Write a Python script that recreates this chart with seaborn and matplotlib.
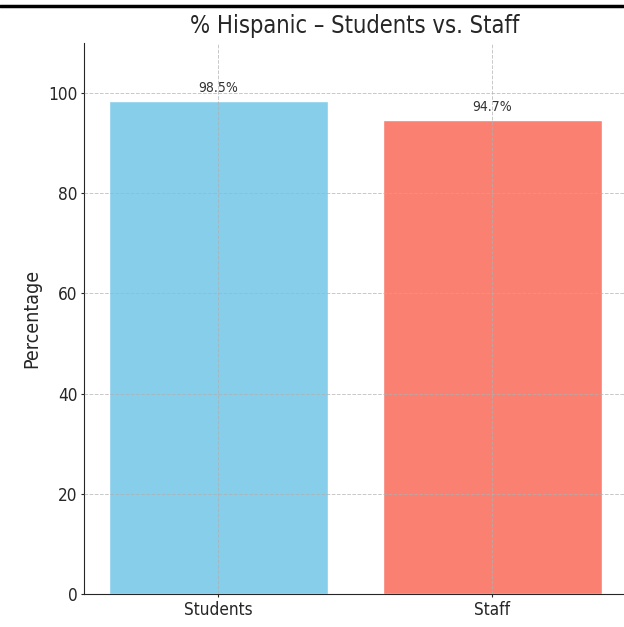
import matplotlib
matplotlib.use("Agg")
import matplotlib.pyplot as plt
import seaborn as sns
import pandas as pd
from matplotlib.lines import Line2D
from matplotlib import font_manager

groups = ["Students", "Staff"]
values = [98.5, 94.7]
labels = ["98.5%", "94.7%"]
colors = ["#87CEEB", "#FA8072"]

sns.set_style("ticks")
names = {f.name for f in font_manager.fontManager.ttflist}
fam = "DejaVu Sans"
if "DejaVu Sans Condensed" in names:
    fam = "DejaVu Sans Condensed"
plt.rcParams['font.family'] = [fam, 'DejaVu Sans']
plt.rcParams['font.stretch'] = 'condensed'

fig = plt.figure(figsize=(6.24, 6.27), dpi=100)
ax = fig.add_axes([0.1346, 0.0526, 0.869, 0.8788])

df = pd.DataFrame({"group": groups, "value": values})
sns.barplot(data=df, x="group", y="value", hue="group", palette=colors,
            width=0.8, saturation=1, legend=False, ax=ax)

for i, (v, lab) in enumerate(zip(values, labels)):
    ax.text(i, v + 1.2, lab, ha="center", va="bottom", fontsize=10, color="#333333")

ax.set_ylim(0, 110)
ax.set_xlim(-0.49, 1.49)
ax.set_yticks([0, 20, 40, 60, 80, 100])
ax.set_xlabel("")
ax.set_ylabel("Percentage", fontsize=14, color="#262626", labelpad=5)
ax.set_title("% Hispanic – Students vs. Staff", fontsize=17, color="#262626", pad=7.5)
ax.tick_params(labelsize=12.3, colors="#262626", length=2, width=0.8)
ax.tick_params(axis="y", pad=2.5)
ax.tick_params(axis="x", pad=3)
ax.grid(True, linestyle="--", color="#b0b0b0", linewidth=0.7, alpha=0.7)
ax.set_axisbelow(False)
for s in ["top", "right"]:
    ax.spines[s].set_visible(False)
for s in ["left", "bottom"]:
    ax.spines[s].set_color("#262626")

fig.add_artist(Line2D([0, 0.999], [0.9904, 0.9904], color="black", linewidth=2.5,
                      transform=fig.transFigure))

fig.savefig("out.png", dpi=100)
